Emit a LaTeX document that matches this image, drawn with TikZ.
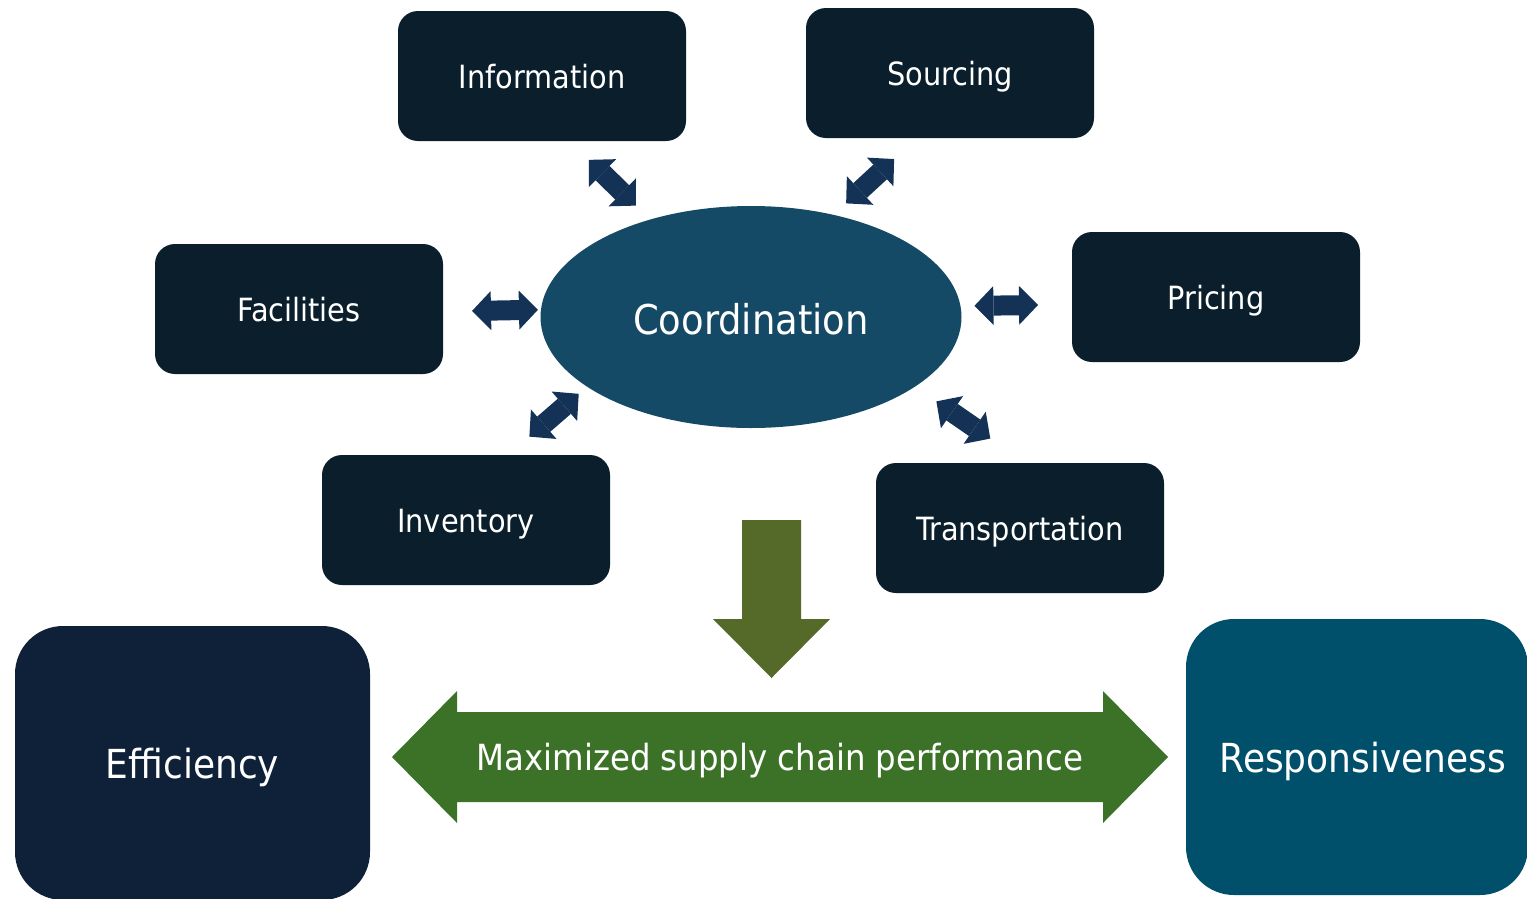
\documentclass[tikz,border=0pt]{standalone}
\usepackage{fontspec}
\setmainfont{DejaVu Sans Condensed}
\usetikzlibrary{arrows.meta,shapes.geometric}

\definecolor{boxdark}{HTML}{0A1F2B}
\definecolor{effblue}{HTML}{0E2138}
\definecolor{respblue}{HTML}{004F6B}
\definecolor{coordblue}{HTML}{144A65}
\definecolor{linkblue}{HTML}{143255}
\definecolor{downolive}{HTML}{556A28}
\definecolor{perfgreen}{HTML}{3B7228}

\begin{document}
\begin{tikzpicture}[x=1pt, y=-1pt,
  driver/.style={fill=boxdark, text=white, rounded corners=20pt, minimum width=288pt, minimum height=130pt, outer sep=0pt, font=\fontsize{32}{38}\selectfont, text height=32pt, text depth=7pt},
  goal/.style={text=white, rounded corners=48pt, outer sep=0pt, font=\fontsize{40}{48}\selectfont, text height=40pt, text depth=9pt},
  link/.style={linkblue, line width=20pt, {Triangle[length=19pt,width=39pt,line width=0pt]}-{Triangle[length=19pt,width=39pt,line width=0pt]}}]
  \useasboundingbox (0,0) rectangle (1527,898);

  % Coordination and the drivers round it
  \node[ellipse, fill=coordblue, text=white, minimum width=421pt, minimum height=222pt, outer sep=0pt, font=\fontsize{41}{49}\selectfont, text height=42pt, text depth=8pt] (coord) at (751,317) {Coordination};

  \node[driver] (info) at (542,76) {Information};
  \node[driver] (src) at (950,73) {Sourcing};
  \node[driver] (fac) at (299,309) {Facilities};
  \node[driver] (price) at (1216,297) {Pricing};
  \node[driver] (inv) at (466,520) {Inventory};
  \node[driver] (trans) at (1020,528) {Transportation};

  \draw[link, shorten <=27pt, shorten >=20pt] (info.-67.4) -- (coord.136.7);
  \draw[link, shorten <=31pt, shorten >=17pt] (src.-117.6) -- (coord.51.9);
  \draw[link, shorten <=29pt, shorten >=3pt] (fac.-1) -- (coord.178.5);
  \draw[link, shorten <=34pt, shorten >=14pt] (price.-177.7) -- (coord.3.9);
  \draw[link, shorten <=28pt, shorten >=11pt] (inv.57.6) -- (coord.-157.9);
  \draw[link, shorten <=43pt, shorten >=26pt] (trans.85.8) -- (coord.-23.2);

  % Result
  \fill[downolive] (742,520) -- (801,520) -- (801,619) -- (830,619) -- (771.5,678) -- (713,619) -- (742,619) -- cycle;

  \fill[perfgreen] (392,757) -- (457,691) -- (457,712) -- (1103,712) -- (1103,691) -- (1168,757)
    -- (1103,823) -- (1103,802) -- (457,802) -- (457,823) -- cycle;
  \node[text=white, font=\fontsize{36}{43}\selectfont, text height=35pt, text depth=9pt] (perf) at (780,757) {Maximized supply chain performance};

  \node[goal, fill=effblue, minimum width=355pt, minimum height=274pt] (eff) at (192.5,763) {Efficiency};
  \node[goal, fill=respblue, minimum width=342pt, minimum height=276pt] (resp) at (1357,757) {\hspace{12pt}Responsiveness};
\end{tikzpicture}
\end{document}
